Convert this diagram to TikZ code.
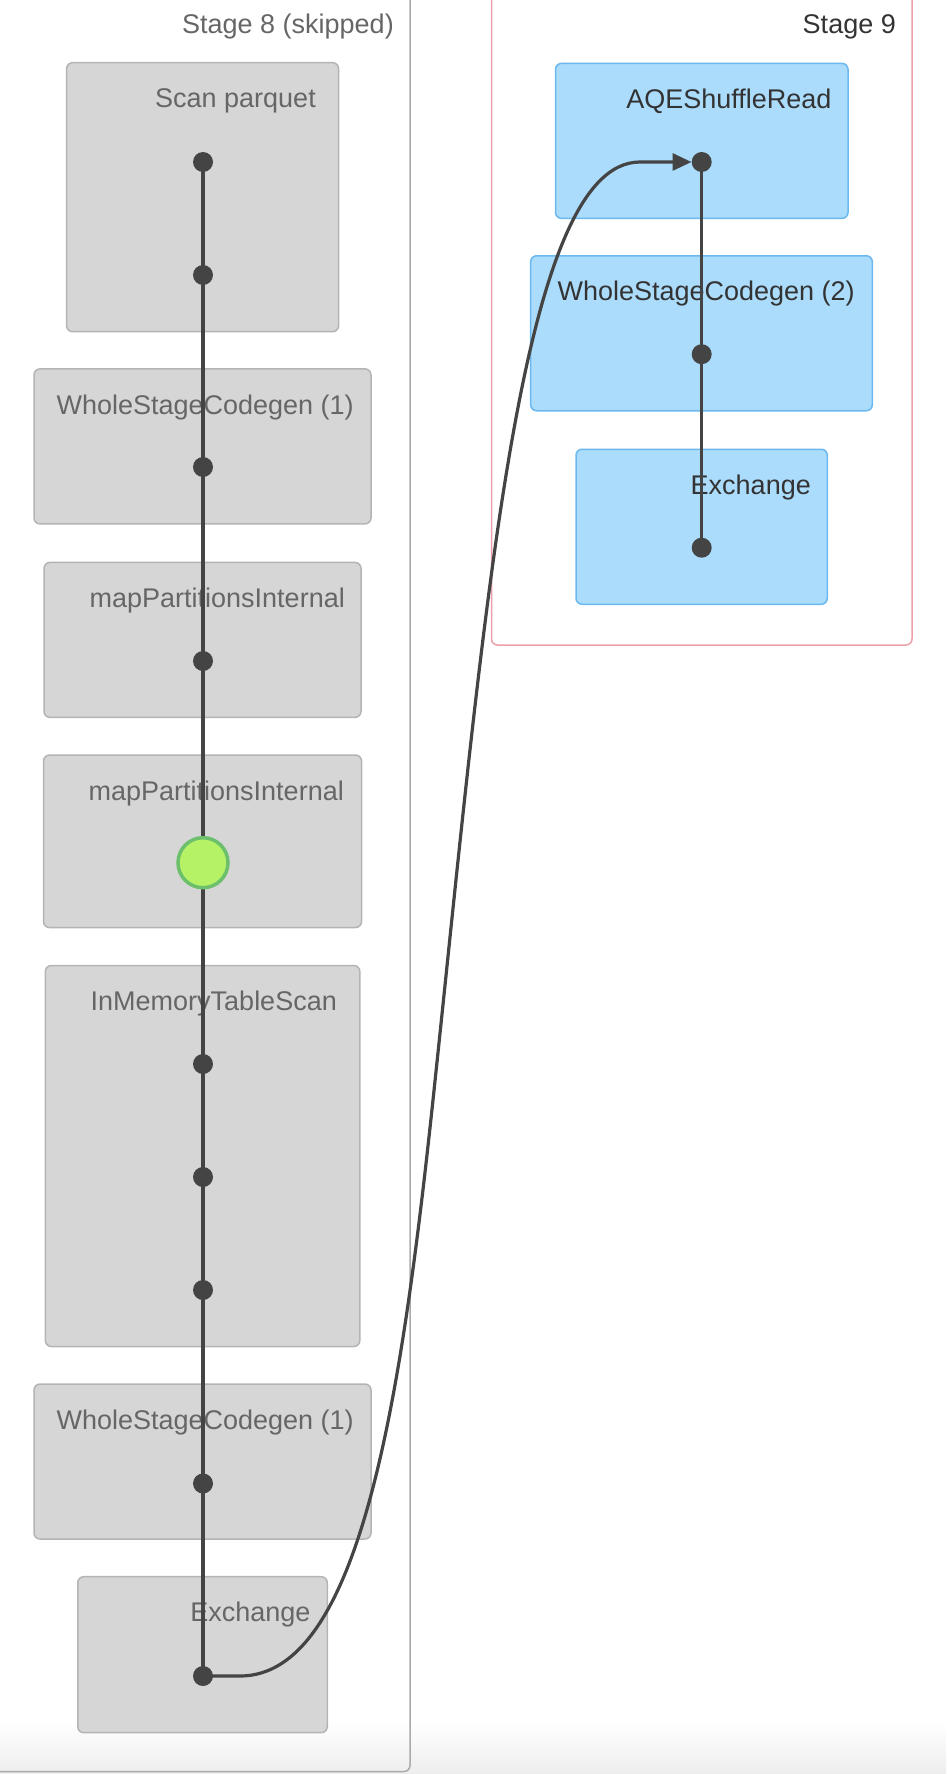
\documentclass[tikz,border=0pt]{standalone}
\usepackage{fontspec}
\setmainfont{Liberation Sans}
\usetikzlibrary{arrows.meta}
\definecolor{grayfill}{HTML}{D6D6D6}
\definecolor{grayline}{HTML}{B4B4B4}
\definecolor{bluefill}{HTML}{ABDCFC}
\definecolor{blueline}{HTML}{6BB8F0}
\definecolor{stageeight}{HTML}{AAAAAA}
\definecolor{stagenine}{HTML}{EBA0AB}
\definecolor{edgecol}{HTML}{444444}
\definecolor{txtgray}{HTML}{666666}
\definecolor{txtdark}{HTML}{333333}
\definecolor{greenfill}{HTML}{B6F266}
\definecolor{greenline}{HTML}{6CC06C}
\begin{document}
\begin{tikzpicture}[x=1pt,y=-1pt,
  font=\fontsize{27}{32}\selectfont,
  graybox/.style={draw=grayline, fill=grayfill, line width=1.5pt, rounded corners=6pt, inner sep=0pt},
  bluebox/.style={draw=blueline, fill=bluefill, line width=1.5pt, rounded corners=6pt, inner sep=0pt},
  graylabel/.style={anchor=base east, inner sep=0pt, text=txtgray},
  bluelabel/.style={anchor=base east, inner sep=0pt, text=txtdark},
  dotnode/.style={circle, fill=edgecol, minimum size=20pt, inner sep=0pt},
  cachednode/.style={circle, fill=greenfill, draw=greenline, line width=3.5pt, minimum size=50pt, inner sep=0pt},
  edge/.style={draw=edgecol, line width=3.2pt},
  stagebox/.style={line width=1.5pt, rounded corners=6pt}
]
\useasboundingbox (0,0) rectangle (946,1774);
\shade[top color=white, bottom color=black!7] (0,1722) rectangle (946,1774);

% stage clusters
\draw[stagebox, draw=stageeight] (-20,-20) rectangle (410,1771.5);
\draw[stagebox, draw=stagenine] (491.5,-20) rectangle (912,645);
\node[anchor=base east, inner sep=0pt, text=txtgray] (s8) at (394,34) {Stage 8 (skipped)};
\node[anchor=base east, inner sep=0pt, text=txtdark] (s9) at (896,34) {Stage 9};

% stage 8 boxes
\node[graybox, minimum width=272pt, minimum height=269pt] (g1) at (202.6,197.2) {};
\node[graybox, minimum width=337pt, minimum height=155pt] (g2) at (202.5,446.4) {};
\node[graybox, minimum width=317pt, minimum height=155pt] (g3) at (202.5,639.9) {};
\node[graybox, minimum width=318pt, minimum height=172.5pt] (g4) at (202.5,841.3) {};
\node[graybox, minimum width=314.5pt, minimum height=381pt] (g5) at (202.6,1156) {};
\node[graybox, minimum width=337pt, minimum height=155pt] (g6) at (202.5,1461.5) {};
\node[graybox, minimum width=249.5pt, minimum height=156pt] (g7) at (202.5,1654.7) {};

\node[graylabel] (l1) at (316,108) {Scan parquet};
\node[graylabel] (l2) at (354,414) {WholeStageCodegen (1)};
\node[graylabel] (l3) at (345,607) {mapPartitionsInternal};
\node[graylabel] (l4) at (344,800) {mapPartitionsInternal};
\node[graylabel] (l5) at (337,1010) {InMemoryTableScan};
\node[graylabel] (l6) at (354,1429) {WholeStageCodegen (1)};
\node[graylabel] (l7) at (310.7,1621) {Exchange};

% stage 9 boxes
\node[bluebox, minimum width=292.5pt, minimum height=155pt] (b1) at (701.75,140.9) {};
\node[bluebox, minimum width=341.6pt, minimum height=155pt] (b2) at (701.5,333.25) {};
\node[bluebox, minimum width=251.3pt, minimum height=155pt] (b3) at (701.65,526.75) {};

\node[bluelabel] (m1) at (831.7,108.4) {AQEShuffleRead};
\node[bluelabel] (m2) at (855,300.7) {WholeStageCodegen (2)};
\node[bluelabel] (m3) at (811,494.2) {Exchange};

% dot positions
\coordinate (d1) at (203,162);
\coordinate (d2) at (203,275);
\coordinate (d3) at (203,467);
\coordinate (d4) at (203,661);
\coordinate (d5) at (203,862.7);
\coordinate (d6) at (203,1064);
\coordinate (d7) at (203,1177);
\coordinate (d8) at (203,1290);
\coordinate (d9) at (203,1483.5);
\coordinate (d10) at (203,1676);
\coordinate (e1) at (701.7,162);
\coordinate (e2) at (701.7,354.2);
\coordinate (e3) at (701.7,547.7);

% edges
\draw[edge] (d1) -- (d2) -- (d3) -- (d4) -- (d5) -- (d6) -- (d7) -- (d8) -- (d9) -- (d10);
\draw[edge] (e1) -- (e2) -- (e3);

\node[dotnode] (n1) at (d1) {};
\node[dotnode] (n2) at (d2) {};
\node[dotnode] (n3) at (d3) {};
\node[dotnode] (n4) at (d4) {};
\node[cachednode] (n5) at (d5) {};
\node[dotnode] (n6) at (d6) {};
\node[dotnode] (n7) at (d7) {};
\node[dotnode] (n8) at (d8) {};
\node[dotnode] (n9) at (d9) {};
\node[dotnode] (n10) at (d10) {};
\node[dotnode] (k1) at (e1) {};
\node[dotnode] (k2) at (e2) {};
\node[dotnode] (k3) at (e3) {};

% cross-stage edge
\draw[edge, -{Triangle[length=19pt,width=17pt]}] (n10.center) -- (240,1676)
  .. controls (360,1676) and (401,1400) .. (433,1100)
  .. controls (486,600) and (520,162) .. (640,162) -- (k1.west);
\end{tikzpicture}
\end{document}
